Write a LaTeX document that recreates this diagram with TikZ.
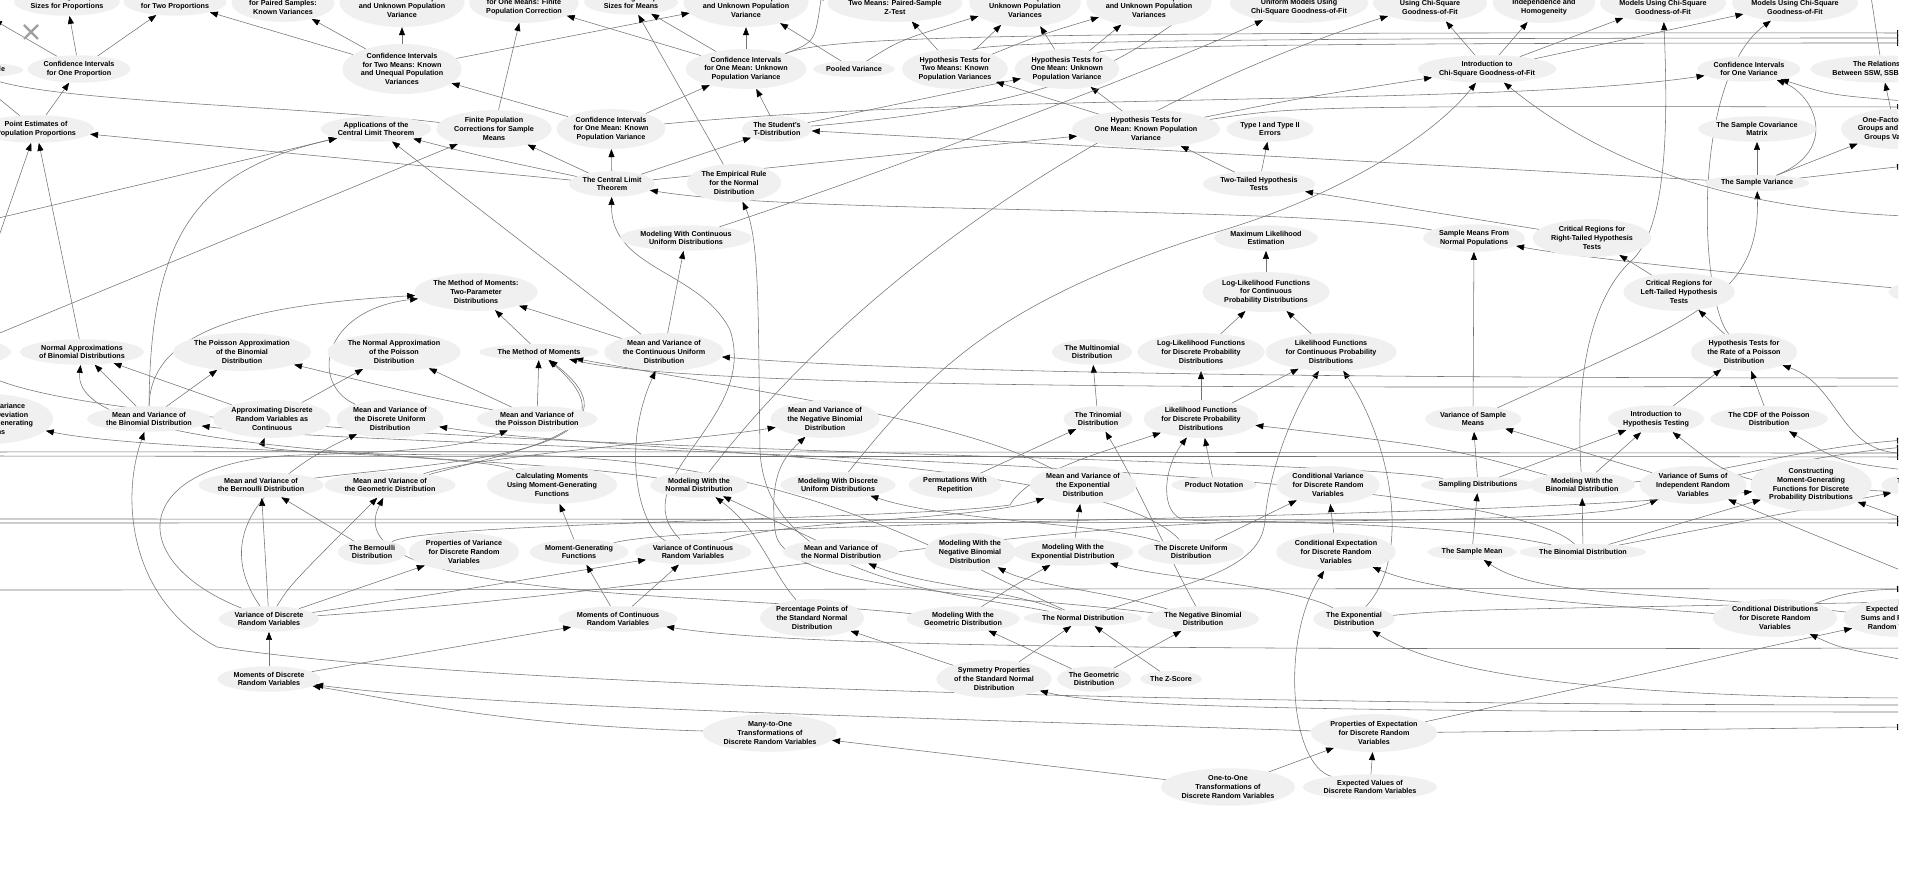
\documentclass[tikz,border=0pt]{standalone}
\usepackage{fontspec}
\setmainfont{Liberation Sans}
\usetikzlibrary{shapes.geometric,arrows.meta}
\pgfdeclarelayer{paper}
\pgfdeclarelayer{wires}
\pgfsetlayers{paper,wires,main}

\begin{document}
\begin{tikzpicture}[x=1pt,y=-1pt,
    topic/.style={ellipse,fill=gray!12,inner xsep=1pt,inner ysep=2pt,minimum height=16pt,
      align=center,font=\fontsize{7.2}{8.7}\selectfont\bfseries},
    link/.style={draw=black!55,line width=0.55pt,-{Triangle[length=8pt,width=6pt,color=black]}}]
  \useasboundingbox (0,0) rectangle (1920,869);
  \begin{pgfonlayer}{paper}
    \fill[white] (0,0) rectangle (1920,869);
  \end{pgfonlayer}

  \begin{scope}
  \clip (0,0) rectangle (1898,869);
  % top row, cut by the window
  \node[topic] (estprop) at (67,2) {Estimating Sample\\Sizes for Proportions};
  \node[topic] (citwoprop) at (175,2) {Confidence Intervals\\for Two Proportions};
  \node[topic] (cipaired) at (283,3) {Confidence Intervals\\for Paired Samples:\\Known Variances};
  \node[topic] (citwouu) at (402,2) {Confidence Intervals\\for Two Means: Unequal\\and Unknown Population\\Variance};
  \node[topic] (cifinite) at (524,3) {Confidence Intervals\\for One Means: Finite\\Population Correction};
  \node[topic] (estmeans) at (631,2) {Estimating Sample\\Sizes for Means};
  \node[topic] (citwoeu) at (746,2) {Confidence Intervals\\for Two Means: Equal\\and Unknown Population\\Variance};
  \node[topic] (htpaired) at (895,3) {Hypothesis Tests for\\Two Means: Paired-Sample\\Z-Test};
  \node[topic] (hteu) at (1025,2) {Hypothesis Tests for\\Two Means: Equal But\\Unknown Population\\Variances};
  \node[topic] (htuu) at (1149,2) {Hypothesis Tests for\\Two Means: Unequal\\and Unknown Population\\Variances};
  \node[topic] (chiunif) at (1299,3) {Testing Discrete\\Uniform Models Using\\Chi-Square Goodness-of-Fit};
  \node[topic] (chinorm) at (1430,3) {Testing Normal Models\\Using Chi-Square\\Goodness-of-Fit};
  \node[topic] (chiindep) at (1544,3) {Chi-Square Tests for\\Independence and\\Homogeneity};
  \node[topic] (chibinom) at (1663,3) {Testing Binomial\\Models Using Chi-Square\\Goodness-of-Fit};
  \node[topic] (chipois) at (1795,3) {Testing Poisson\\Models Using Chi-Square\\Goodness-of-Fit};

  \node[topic] (leftle) at (-36,70) {Simple Random Sample};
  \node[topic] (cioneprop) at (79,69) {Confidence Intervals\\for One Proportion};
  \node[topic] (citwoku) at (402,69) {Confidence Intervals\\for Two Means: Known\\and Unequal Population\\Variances};
  \node[topic] (cioneunk) at (746,69) {Confidence Intervals\\for One Mean: Unknown\\Population Variance};
  \node[topic] (pooled) at (854,69) {Pooled Variance};
  \node[topic] (httwok) at (955,69) {Hypothesis Tests for\\Two Means: Known\\Population Variances};
  \node[topic] (htoneunk) at (1067,69) {Hypothesis Tests for\\One Mean: Unknown\\Population Variance};
  \node[topic] (introchi) at (1487,69) {Introduction to\\Chi-Square Goodness-of-Fit};
  \node[topic] (cionevar) at (1749,69) {Confidence Intervals\\for One Variance};
  \node[topic] (relssw) at (1882,69) {The Relationship\\Between SSW, SSB, and SST};

  \node[topic] (pointest) at (36,129) {Point Estimates of\\Population Proportions};
  \node[topic] (applclt) at (376,129) {Applications of the\\Central Limit Theorem};
  \node[topic] (finitepop) at (494,129) {Finite Population\\Corrections for Sample\\Means};
  \node[topic] (cioneknown) at (611,129) {Confidence Intervals\\for One Mean: Known\\Population Variance};
  \node[topic] (tdist) at (777,129) {The Student's\\T-Distribution};
  \node[topic] (htoneknown) at (1146,129) {Hypothesis Tests for\\One Mean: Known Population\\Variance};
  \node[topic] (typeerr) at (1270,129) {Type I and Type II\\Errors};
  \node[topic] (samplecov) at (1757,129) {The Sample Covariance\\Matrix};
  \node[topic] (onefactor) at (1895,129) {One-Factor Within-\\Groups and Between-\\Groups Variances};

  \node[topic] (clt) at (612,184) {The Central Limit\\Theorem};
  \node[topic] (empirical) at (734,183) {The Empirical Rule\\for the Normal\\Distribution};
  \node[topic] (twotailed) at (1259,184) {Two-Tailed Hypothesis\\Tests};
  \node[topic] (samplevar) at (1757,183) {The Sample Variance};

  \node[topic] (modcontunif) at (686,238) {Modeling With Continuous\\Uniform Distributions};
  \node[topic] (maxlike) at (1266,238) {Maximum Likelihood\\Estimation};
  \node[topic] (samplemeansnorm) at (1474,238) {Sample Means From\\Normal Populations};
  \node[topic] (critright) at (1592,238) {Critical Regions for\\Right-Tailed Hypothesis\\Tests};

  \node[topic] (momtwo) at (476,292) {The Method of Moments:\\Two-Parameter\\Distributions};
  \node[topic] (loglikecont) at (1266,292) {Log-Likelihood Functions\\for Continuous\\Probability Distributions};
  \node[topic] (critleft) at (1679,292) {Critical Regions for\\Left-Tailed Hypothesis\\Tests};
  \node[topic] (rightcut) at (1940,292) {Hypothesis Tests for\\One Variance};

  \node[topic] (leftcut) at (-45,352) {Sampling Distribution\\of Sample Proportions};
  \node[topic] (normapprox) at (82,352) {Normal Approximations\\of Binomial Distributions};
  \node[topic] (poisapprox) at (242,352) {The Poisson Approximation\\of the Binomial\\Distribution};
  \node[topic] (normapproxpois) at (394,352) {The Normal Approximation\\of the Poisson\\Distribution};
  \node[topic] (methmom) at (539,352) {The Method of Moments};
  \node[topic] (mvcontunif) at (664,352) {Mean and Variance of\\the Continuous Uniform\\Distribution};
  \node[topic] (multinom) at (1092,352) {The Multinomial\\Distribution};
  \node[topic] (loglikedisc) at (1201,352) {Log-Likelihood Functions\\for Discrete Probability\\Distributions};
  \node[topic] (likecont) at (1331,352) {Likelihood Functions\\for Continuous Probability\\Distributions};
  \node[topic] (htpoisson) at (1744,352) {Hypothesis Tests for\\the Rate of a Poisson\\Distribution};

  \node[topic] (mgfleft) at (-12,419) {Expectation, Variance\\and Standard Deviation\\Using Moment-Generating\\Functions};
  \node[topic] (mvbinom) at (149,419) {Mean and Variance of\\the Binomial Distribution};
  \node[topic] (approxcont) at (272,419) {Approximating Discrete\\Random Variables as\\Continuous};
  \node[topic] (mvdiscunif) at (390,419) {Mean and Variance of\\the Discrete Uniform\\Distribution};
  \node[topic] (mvpois) at (537,419) {Mean and Variance of\\the Poisson Distribution};
  \node[topic] (mvnegbin) at (825,419) {Mean and Variance of\\the Negative Binomial\\Distribution};
  \node[topic] (trinom) at (1098,419) {The Trinomial\\Distribution};
  \node[topic] (likedisc) at (1201,419) {Likelihood Functions\\for Discrete Probability\\Distributions};
  \node[topic] (varsamplemeans) at (1473,419) {Variance of Sample\\Means};
  \node[topic] (introht) at (1656,419) {Introduction to\\Hypothesis Testing};
  \node[topic] (cdfpois) at (1769,419) {The CDF of the Poisson\\Distribution};

  \node[topic] (mvbern) at (261,485) {Mean and Variance of\\the Bernoulli Distribution};
  \node[topic] (mvgeom) at (390,485) {Mean and Variance of\\the Geometric Distribution};
  \node[topic] (calcmom) at (552,485) {Calculating Moments\\Using Moment-Generating\\Functions};
  \node[topic] (modnorm) at (699,485) {Modeling With the\\Normal Distribution};
  \node[topic] (moddiscunif) at (838,485) {Modeling With Discrete\\Uniform Distributions};
  \node[topic] (perm) at (955,485) {Permutations With\\Repetition};
  \node[topic] (mvexp) at (1083,485) {Mean and Variance of\\the Exponential\\Distribution};
  \node[topic] (prodnot) at (1214,485) {Product Notation};
  \node[topic] (condvar) at (1328,485) {Conditional Variance\\for Discrete Random\\Variables};
  \node[topic] (samplingdist) at (1478,485) {Sampling Distributions};
  \node[topic] (modbinom) at (1582,485) {Modeling With the\\Binomial Distribution};
  \node[topic] (varsums) at (1693,485) {Variance of Sums of\\Independent Random\\Variables};
  \node[topic] (constmgf) at (1811,485) {Constructing\\Moment-Generating\\Functions for Discrete\\Probability Distributions};
  \node[topic] (rightcutb) at (1932,485) {The Hypergeometric\\Distribution};

  \node[topic] (bernoulli) at (372,552) {The Bernoulli\\Distribution};
  \node[topic] (propvar) at (464,552) {Properties of Variance\\for Discrete Random\\Variables};
  \node[topic] (mgf) at (579,552) {Moment-Generating\\Functions};
  \node[topic] (varcontrv) at (693,552) {Variance of Continuous\\Random Variables};
  \node[topic] (mvnorm) at (841,552) {Mean and Variance of\\the Normal Distribution};
  \node[topic] (modnegbin) at (970,552) {Modeling With the\\Negative Binomial\\Distribution};
  \node[topic] (modexp) at (1073,552) {Modeling With the\\Exponential Distribution};
  \node[topic] (discunif) at (1191,552) {The Discrete Uniform\\Distribution};
  \node[topic] (condexp) at (1336,552) {Conditional Expectation\\for Discrete Random\\Variables};
  \node[topic] (samplemean) at (1472,552) {The Sample Mean};
  \node[topic] (binomial) at (1583,552) {The Binomial Distribution};

  \node[topic] (vardisc) at (269,619) {Variance of Discrete\\Random Variables};
  \node[topic] (momcont) at (618,619) {Moments of Continuous\\Random Variables};
  \node[topic] (pctpoints) at (812,618) {Percentage Points of\\the Standard Normal\\Distribution};
  \node[topic] (modgeom) at (963,619) {Modeling With the\\Geometric Distribution};
  \node[topic] (normal) at (1083,618) {The Normal Distribution};
  \node[topic] (negbin) at (1203,619) {The Negative Binomial\\Distribution};
  \node[topic] (exponential) at (1354,619) {The Exponential\\Distribution};
  \node[topic] (conddist) at (1775,618) {Conditional Distributions\\for Discrete Random\\Variables};
  \node[topic] (expsums) at (1899,618) {Expected Values of\\Sums and Products of\\Random Variables};

  \node[topic] (momdisc) at (269,679) {Moments of Discrete\\Random Variables};
  \node[topic] (symmetry) at (994,679) {Symmetry Properties\\of the Standard Normal\\Distribution};
  \node[topic] (geometric) at (1094,679) {The Geometric\\Distribution};
  \node[topic] (zscore) at (1171,679) {The Z-Score};

  \node[topic] (manytoone) at (770,733) {Many-to-One\\Transformations of\\Discrete Random Variables};
  \node[topic] (propexp) at (1374,733) {Properties of Expectation\\for Discrete Random\\Variables};

  \node[topic] (onetoone) at (1228,787) {One-to-One\\Transformations of\\Discrete Random Variables};
  \node[topic] (expval) at (1370,787) {Expected Values of\\Discrete Random Variables};

  % close button of the viewer
  \draw[gray!75,line width=2.3pt] (24,25) -- (38,39) (24,39) -- (38,25);
  \end{scope}

  % ends of edges that leave the window
  \coordinate (offTL) at (-6,20);
  \coordinate (offTa) at (1225,-8);
  \coordinate (offTb) at (822,-8);
  \coordinate (offTc) at (1870,-10);
  \coordinate (offLa) at (-10,220);
  \coordinate (offLb) at (-10,262);
  \coordinate (offLc) at (-10,337);
  \coordinate (offLd) at (-10,452);
  \coordinate (offLe) at (-10,456);
  \coordinate (offLf) at (-10,519);
  \coordinate (offLg) at (-10,523);
  \coordinate (offLh) at (-10,590);
  \coordinate (offRa) at (1905,33);
  \coordinate (offRb) at (1905,38);
  \coordinate (offRc) at (1905,43);
  \coordinate (offRd) at (1905,101);
  \coordinate (offRe) at (1905,107);
  \coordinate (offRf) at (1905,166);
  \coordinate (offRg) at (1905,216);
  \coordinate (offRh) at (1905,378);
  \coordinate (offRi) at (1905,386);
  \coordinate (offRj) at (1905,440);
  \coordinate (offRk) at (1905,447);
  \coordinate (offRl) at (1905,453);
  \coordinate (offRm) at (1905,457);
  \coordinate (offRn) at (1905,470);
  \coordinate (offRo) at (1905,492);
  \coordinate (offRp) at (1905,519);
  \coordinate (offRq) at (1905,523);
  \coordinate (offRr) at (1905,572);
  \coordinate (offRs) at (1905,589);
  \coordinate (offRt) at (1905,602);
  \coordinate (offRu) at (1905,648);
  \coordinate (offRv) at (1905,660);
  \coordinate (offRw) at (1905,698);
  \coordinate (offRx) at (1905,705);
  \coordinate (offRy) at (1905,712);
  \coordinate (offRz) at (1905,727);

  \begin{pgfonlayer}{wires}
  \begin{scope}
  \clip (0,0) rectangle (1898,869);
  % upper part
  \draw[link] (cioneprop) -- (estprop);
  \draw[link] (cioneprop) -- (citwoprop);
  \draw[link] (cioneprop) -- (offTL);
  \draw[link] (pointest) -- (cioneprop);
  \draw[link] (pointest) -- (leftle);
  \draw[link] (finitepop) .. controls (300,106) and (60,102) .. (leftle);
  \draw[link] (citwoku) -- (cipaired);
  \draw[link] (citwoku) -- (citwouu);
  \draw[link] (citwoku) -- (citwoprop);
  \draw[link] (citwoku) -- (citwoeu);
  \draw[link] (cioneknown) -- (citwoku);
  \draw[link] (finitepop) -- (cifinite);
  \draw[link] (cioneunk) -- (cifinite);
  \draw[link] (cioneunk) -- (estmeans);
  \draw[link] (cioneunk) -- (citwoeu);
  \draw[link] (empirical) -- (estmeans);
  \draw[link] (pooled) -- (citwoeu);
  \draw[link] (pooled) .. controls (900,40) .. (hteu);
  \draw[link] (httwok) -- (htpaired);
  \draw[link] (httwok) -- (hteu);
  \draw[link] (httwok) .. controls (1040,35) .. (htuu);
  \draw[link] (htoneunk) -- (hteu);
  \draw[link] (htoneunk) -- (htuu);
  \draw[link] (cioneknown) -- (cioneunk);
  \draw[link] (tdist) -- (cioneunk);
  \draw[link] (clt) -- (tdist);
  \draw[link] (clt) -- (cioneknown);
  \draw[link] (clt) -- (finitepop);
  \draw[link] (clt) .. controls (480,156) .. (applclt);
  \draw[link] (clt) -- (pointest);
  \draw[link] (clt) -- (htoneknown);
  \draw[link] (tdist) -- (htoneunk);
  \draw[link] (tdist) .. controls (1120,100) and (1135,40) .. (offTa);
  \draw[link] (cioneunk) .. controls (815,42) .. (offTb);
  \draw[link] (samplevar) -- (tdist);
  \draw[link] (htoneknown) -- (httwok);
  \draw[link] (htoneknown) -- (htoneunk);
  \draw[link] (htoneknown) .. controls (1300,98) .. (introchi);
  \draw[link] (htoneknown) .. controls (1300,106) .. (offRe);
  \draw[link] (cioneknown) .. controls (1000,92) and (1500,106) .. (cionevar);
  \draw[link] (cioneunk) .. controls (830,36) and (1000,32) .. (offRa);
  \draw[link] (httwok) .. controls (980,42) and (1200,38) .. (offRb);
  \draw[link] (htoneunk) .. controls (1110,46) and (1300,43) .. (offRc);
  \draw[link] (twotailed) -- (htoneknown);
  \draw[link] (twotailed) -- (typeerr);
  \draw[link] (critright) -- (twotailed);
  \draw[link] (critleft) -- (critright);
  \draw[link] (rightcut) .. controls (1750,275) and (1580,258) .. (samplemeansnorm);
  \draw[link] (varsamplemeans) -- (samplemeansnorm);
  \draw[link] (samplemeansnorm) .. controls (1300,205) and (800,215) .. (clt);
  \draw[link] (htpoisson) -- (critleft);
  \draw[link] (samplevar) -- (samplecov);
  \draw[link] (samplevar) -- (onefactor);
  \draw[link] (samplevar) .. controls (1840,150) and (1815,95) .. (cionevar);
  \draw[link] (offRd) .. controls (1830,95) .. (cionevar);
  \draw[link] (onefactor) -- (relssw);
  \draw[link] (relssw) -- (offTc);
  \draw[link] (samplevar) -- (offRf);
  \draw[link] (varsamplemeans) .. controls (1690,320) and (1760,300) .. (samplevar);
  \draw[link] (modbinom) .. controls (1575,380) and (1590,300) .. (1630,262) .. controls (1668,230) and (1668,120) .. (chibinom);
  \draw[link] (introchi) -- (chiindep);
  \draw[link] (introchi) -- (chinorm);
  \draw[link] (introchi) -- (chibinom);
  \draw[link] (introchi) -- (chipois);
  \draw[link] (moddiscunif) .. controls (930,370) and (1000,300) .. (1210,234) .. controls (1330,200) and (1430,140) .. (introchi);
  \draw[link] (offRg) .. controls (1720,208) and (1600,160) .. (introchi);
  \draw[link] (htpoisson) .. controls (1700,300) and (1690,80) .. (chipois);
  \draw[link] (offLa) -- (applclt);
  \draw[link] (offLb) -- (pointest);
  \draw[link] (offLc) -- (finitepop);
  \draw[link] (normapprox) -- (pointest);
  \draw[link] (mvbinom) .. controls (150,230) and (200,170) .. (applclt);
  \draw[link] (mvcontunif) -- (applclt);
  \draw[link] (mvcontunif) -- (momtwo);
  \draw[link] (mvcontunif) -- (modcontunif);
  \draw[link] (modcontunif) .. controls (950,150) and (1200,50) .. (chiunif);
  \draw[link] (modnorm) .. controls (880,250) and (1150,90) .. (chinorm);
  \draw[link] (normal) .. controls (950,592) and (765,580) .. (760,450) .. controls (758,320) and (760,240) .. (empirical);

  % likelihood block
  \draw[link] (loglikecont) -- (maxlike);
  \draw[link] (loglikedisc) -- (loglikecont);
  \draw[link] (likecont) -- (loglikecont);
  \draw[link] (likedisc) -- (loglikedisc);
  \draw[link] (likedisc) -- (likecont);
  \draw[link] (normal) .. controls (1190,582) and (1262,570) .. (1265,520) .. controls (1270,460) and (1300,400) .. (likecont);
  \draw[link] (exponential) .. controls (1410,560) and (1395,450) .. (likecont);
  \draw[link] (trinom) -- (multinom);
  \draw[link] (perm) -- (trinom);
  \draw[link] (negbin) .. controls (1170,560) and (1140,490) .. (trinom);
  \draw[link] (prodnot) -- (likedisc);
  \draw[link] (binomial) .. controls (1450,522) and (1250,522) .. (1185,520) .. controls (1160,515) and (1162,470) .. (likedisc);
  \draw[link] (bernoulli) .. controls (430,522) and (900,520) .. (1010,505) .. controls (1030,470) and (1110,450) .. (likedisc);
  \draw[link] (modbinom) .. controls (1450,448) .. (likedisc);

  % moments block
  \draw[link] (modexp) -- (mvexp);
  \draw[link] (varcontrv) .. controls (780,520) and (980,520) .. (mvexp);
  \draw[link] (mvexp) .. controls (960,420) and (760,392) .. (methmom);
  \draw[link] (offRi) .. controls (1300,388) and (700,390) .. (methmom);
  \draw[link] (offRh) .. controls (1300,378) and (900,372) .. (mvcontunif);
  \draw[link] (mvpois) -- (methmom);
  \draw[link] (mvgeom) .. controls (520,450) and (640,430) .. (methmom);
  \draw[link] (mvbern) .. controls (440,462) and (660,455) .. (methmom);
  \draw[link] (methmom) -- (momtwo);
  \draw[link] (mvbinom) .. controls (150,330) and (250,305) .. (momtwo);
  \draw[link] (mvdiscunif) .. controls (310,385) and (320,310) .. (momtwo);
  \draw[link] (varcontrv) .. controls (640,530) and (620,450) .. (mvcontunif);
  \draw[link] (varcontrv) .. controls (620,480) and (760,420) .. (730,330) .. controls (700,270) and (610,270) .. (clt);

  % approximations block
  \draw[link] (mvbinom) -- (normapprox);
  \draw[link] (mvbinom) -- (poisapprox);
  \draw[link] (approxcont) -- (normapprox);
  \draw[link] (approxcont) -- (normapproxpois);
  \draw[link] (offRx) .. controls (1300,705) and (500,690) .. (217,647) .. controls (130,600) and (120,500) .. (mvbinom);
  \draw[link] (binomial) .. controls (1480,455) and (400,452) .. (mvbinom);
  \draw[link] (samplingdist) .. controls (1300,452) and (90,455) .. (leftcut);
  \draw[link] (calcmom) .. controls (470,452) and (150,452) .. (mgfleft);
  \draw[link] (mvpois) -- (normapproxpois);
  \draw[link] (mvpois) .. controls (420,395) .. (poisapprox);
  \draw[link] (discunif) .. controls (1100,455) and (600,452) .. (mvdiscunif);
  \draw[link] (vardisc) .. controls (200,520) and (300,460) .. (mvdiscunif);
  \draw[link] (normal) .. controls (950,560) and (800,455) .. (500,455) .. controls (330,455) and (260,450) .. (approxcont);
  \draw[link] (vardisc) .. controls (120,560) and (130,460) .. (300,455) .. controls (420,452) and (470,445) .. (mvpois);
  \draw[link] (modnorm) .. controls (500,452) and (70,460) .. (normapprox);
  \draw[link] (mvgeom) .. controls (480,455) and (700,440) .. (mvnegbin);

  % lower left
  \draw[link] (vardisc) -- (mvbern);
  \draw[link] (bernoulli) -- (mvbern);
  \draw[link] (modgeom) .. controls (700,592) and (330,600) .. (mvgeom);
  \draw[link] (vardisc) .. controls (290,585) .. (mvgeom);
  \draw[link] (vardisc) -- (propvar);
  \draw[link] (momdisc) -- (vardisc);
  \draw[link] (momdisc) -- (momcont);
  \draw[link] (vardisc) .. controls (450,592) .. (varcontrv);
  \draw[link] (vardisc) .. controls (700,590) and (1000,522) .. (1300,521) .. controls (1500,520) and (1620,515) .. (varsums);
  \draw[link] (mgf) -- (calcmom);
  \draw[link] (momcont) -- (mgf);
  \draw[link] (momcont) -- (varcontrv);
  \draw[link] (mgf) .. controls (700,520) and (1500,520) .. (constmgf);
  \draw[link] (discunif) .. controls (1100,522) and (950,522) .. (moddiscunif);
  \draw[link] (mvnorm) -- (modnorm);
  \draw[link] (pctpoints) .. controls (770,570) and (760,530) .. (modnorm);
  \draw[link] (normal) .. controls (1000,588) and (920,585) .. (mvnorm);
  \draw[link] (negbin) .. controls (1000,594) and (780,592) .. (775,530) .. controls (770,480) and (780,460) .. (mvnegbin);
  \draw[link] (negbin) .. controls (1100,590) and (1030,585) .. (modnegbin);
  \draw[link] (modgeom) .. controls (1010,588) .. (modexp);
  \draw[link] (exponential) .. controls (1290,585) and (1160,578) .. (modexp);

  % lower right
  \draw[link] (samplingdist) -- (introht);
  \draw[link] (samplingdist) -- (varsamplemeans);
  \draw[link] (samplemean) -- (samplingdist);
  \draw[link] (expsums) .. controls (1650,590) and (1540,598) .. (samplemean);
  \draw[link] (propexp) -- (expsums);
  \draw[link] (offRv) .. controls (1840,648) .. (conddist);
  \draw[link] (conddist) .. controls (1830,598) and (1850,590) .. (offRs);
  \draw[link] (conddist) .. controls (1600,605) and (1440,595) .. (condexp);
  \draw[link] (binomial) -- (modbinom);
  \draw[link] (binomial) -- (constmgf);
  \draw[link] (binomial) -- (rightcutb);
  \draw[link] (modbinom) -- (introht);
  \draw[link] (modbinom) .. controls (1700,478) and (1800,448) .. (offRj);
  \draw[link] (varsums) -- (varsamplemeans);
  \draw[link] (varsums) .. controls (1760,470) and (1820,455) .. (offRk);
  \draw[link] (offRr) -- (varsums);
  \draw[link] (offRo) .. controls (1740,485) .. (introht);
  \draw[link] (introht) -- (htpoisson);
  \draw[link] (cdfpois) -- (htpoisson);
  \draw[link] (offRn) .. controls (1840,462) .. (cdfpois);
  \draw[link] (offRl) .. controls (1840,455) and (1840,385) .. (htpoisson);
  \draw[link] (offRp) -- (constmgf);
  \draw[link] (condexp) -- (condvar);
  \draw[link] (discunif) -- (condvar);
  \draw[link] (expval) .. controls (1290,765) and (1280,640) .. (condexp);
  \draw[link] (offRw) .. controls (1640,697) and (1450,680) .. (exponential);
  \draw[link] (exponential) .. controls (1450,610) .. (offRt);
  \draw[link] (symmetry) -- (normal);
  \draw[link] (zscore) -- (normal);
  \draw[link] (symmetry) -- (pctpoints);
  \draw[link] (geometric) -- (modgeom);
  \draw[link] (geometric) -- (negbin);
  \draw[link] (offRy) .. controls (1300,712) and (1100,706) .. (symmetry);
  \draw[link] (offRu) .. controls (1200,650) and (800,648) .. (momcont);
  \draw[link] (onetoone) -- (manytoone);
  \draw[link] (manytoone) .. controls (500,725) and (400,700) .. (momdisc);
  \draw[link] (propexp) .. controls (900,717) and (500,708) .. (momdisc);
  \draw[link] (onetoone) -- (propexp);
  \draw[link] (expval) -- (propexp);
  \draw[link] (propexp) -- (offRz);

  % long edges running through the two channels
  \draw[link] (offLd) .. controls (600,451) and (1300,453) .. (offRl);
  \draw[link] (offLe) .. controls (600,457) and (1300,456) .. (offRm);
  \draw[link] (offLf) .. controls (600,519) and (1300,520) .. (offRp);
  \draw[link] (offLg) .. controls (600,523) and (1300,522) .. (offRq);
  \draw[link] (offLh) .. controls (600,590) and (1300,588) .. (offRs);
  \end{scope}
  \end{pgfonlayer}
\end{tikzpicture}
\end{document}
